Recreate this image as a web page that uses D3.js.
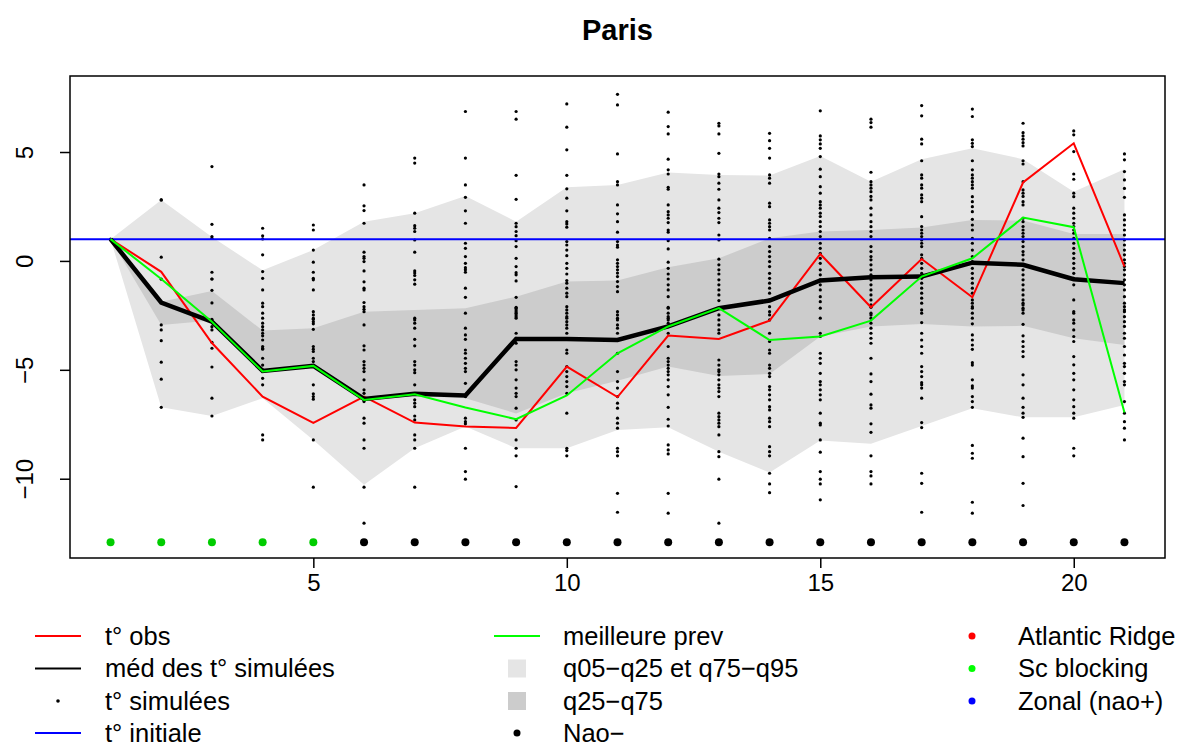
<!DOCTYPE html>
<html>
<head>
<meta charset="utf-8">
<script src="https://cdn.jsdelivr.net/npm/d3@7"></script>
<style>
  body { margin: 0; background: #fff; }
  text { font-family: "Liberation Sans", Arial, Helvetica, sans-serif; }
</style>
</head>
<body>
<div id="chart"></div>
<script>
// Paris - temperature anomaly forecasts

const days = [1,2,3,4,5,6,7,8,9,10,11,12,13,14,15,16,17,18,19,20,21];

const tObs = [1.0,-0.5,-3.77,-6.23,-7.44,-6.23,-7.42,-7.6,-7.67,-4.85,-6.25,-3.43,-3.58,-2.74,0.32,-2.13,0.09,-1.67,3.6,5.4,-0.26];
const bestPrev = [1.0,-0.83,-2.79,-5.08,-4.82,-6.38,-6.12,-6.73,-7.27,-6.18,-4.24,-3.01,-2.17,-3.63,-3.47,-2.74,-0.72,0.12,1.99,1.55,-6.96];
const medSim = [1.0,-1.91,-2.79,-5.05,-4.82,-6.34,-6.1,-6.18,-3.58,-3.58,-3.63,-3.01,-2.17,-1.82,-0.9,-0.75,-0.72,-0.08,-0.18,-0.84,-1.02];

const q05 = [1.0,-6.72,-7.12,-6.3,-8.22,-10.28,-8.6,-7.6,-8.6,-8.6,-7.76,-7.64,-8.76,-9.72,-8.25,-8.4,-7.58,-6.77,-7.18,-7.18,-6.61];
const q25 = [1.0,-2.94,-2.74,-5.08,-4.85,-6.3,-6.2,-6.3,-7.0,-6.08,-5.5,-4.85,-5.28,-5.19,-3.47,-3.01,-2.9,-3.01,-2.98,-3.55,-3.86];
const q75 = [1.0,-1.87,-1.38,-3.2,-3.09,-2.33,-2.25,-2.17,-1.64,-0.95,-0.9,-0.29,0.12,1.04,1.35,1.42,1.53,1.88,1.85,1.24,1.24];
const q95 = [1.0,2.8,1.1,-0.43,0.5,1.8,2.19,2.98,1.8,3.38,3.49,4.06,3.95,3.92,4.82,3.64,4.67,5.17,4.67,3.18,4.21];

const tInit = 1.0;

// simulated temperatures, one list per day
const sims = [
  [1.0],
  [2.8,2.8,0.17,-0.84,-1.91,-2.94,-3.17,-3.66,-4.65,-5.43,-6.72],
  [4.33,1.68,1.12,1.04,-0.52,-0.83,-0.83,-1.35,-1.93,-2.68,-3.02,-3.17,-3.74,-4.01,-4.87,-6.3,-7.12],
  [1.5,1.15,1.01,0.28,-0.49,-0.8,-1.33,-1.94,-2.1,-2.4,-2.63,-2.86,-3.02,-3.17,-3.32,-3.44,-3.63,-3.93,-4.01,-4.05,-4.47,-4.78,-5.0,-5.39,-5.69,-7.99,-8.22],
  [1.65,1.42,0.5,-0.06,-0.52,-0.8,-0.87,-1.33,-2.33,-2.48,-2.63,-2.68,-2.79,-2.89,-3.14,-3.93,-4.05,-4.16,-4.47,-4.62,-4.82,-5.69,-6.1,-6.23,-6.35,-8.22,-10.39],
  [3.49,2.53,2.31,1.73,0.4,0.2,0.12,-0.03,-0.46,-0.96,-1.25,-1.33,-1.91,-2.1,-2.22,-2.33,-2.94,-3.9,-4.09,-4.62,-4.78,-4.93,-5.08,-5.46,-5.92,-6.08,-6.38,-6.46,-7.22,-7.45,-8.22,-8.6,-10.39,-12.04],
  [4.72,4.49,2.19,1.62,1.5,1.35,0.96,0.4,-0.46,-0.56,-0.67,-0.87,-1.07,-2.63,-2.71,-2.86,-3.09,-3.6,-3.9,-4.62,-4.78,-5.0,-5.13,-5.69,-6.38,-6.53,-6.69,-7.12,-7.3,-7.99,-8.22,-8.6,-10.39],
  [6.86,4.72,3.49,2.92,2.3,1.73,0.81,0.58,0.2,-0.11,-0.31,-0.41,-0.52,-1.25,-1.67,-2.4,-3.09,-3.4,-3.6,-4.09,-4.24,-4.47,-4.7,-4.93,-5.08,-5.62,-6.23,-7.22,-7.38,-7.48,-8.6,-9.67,-10.02],
  [6.86,6.51,3.93,2.83,1.73,1.57,1.35,1.16,0.93,0.66,0.12,-0.26,-0.54,-0.64,-0.92,-1.67,-2.13,-2.25,-2.4,-2.56,-2.17,-2.33,-2.48,-2.63,-3.32,-3.55,-3.78,-4.62,-4.78,-5.0,-5.46,-5.84,-6.08,-6.23,-6.76,-7.3,-8.22,-8.6,-8.95,-10.36],
  [7.21,6.14,5.1,3.93,3.31,2.88,2.3,1.8,1.7,1.55,0.89,0.73,0.5,0.24,-0.11,-0.34,-0.6,-0.9,-1.02,-1.25,-1.48,-1.64,-2.1,-2.25,-2.4,-2.56,-2.63,-2.79,-2.94,-3.09,-3.32,-4.09,-4.24,-4.85,-5.08,-5.31,-5.54,-5.77,-6.08,-6.99,-8.6,-8.71,-8.95],
  [7.65,7.16,4.91,3.64,3.49,2.57,2.16,1.8,1.32,0.89,0.73,0.63,0.05,-0.11,-0.26,-0.41,-0.56,-0.72,-0.95,-1.18,-1.41,-2.33,-2.63,-2.48,-2.71,-2.94,-3.09,-3.32,-4.24,-5.08,-5.54,-5.84,-6.23,-6.53,-6.76,-7.22,-7.45,-7.68,-8.6,-8.76,-8.95,-10.67,-11.54],
  [6.83,6.17,5.83,4.67,4.18,3.99,3.38,3.29,2.57,2.26,2.11,1.96,1.76,1.42,1.32,0.93,0.55,-0.06,-0.34,-0.6,-0.83,-1.1,-1.33,-1.64,-2.17,-2.4,-2.63,-2.13,-2.56,-2.71,-2.86,-3.02,-3.32,-3.93,-4.47,-4.62,-4.78,-4.93,-5.08,-5.23,-5.46,-5.77,-6.15,-6.72,-7.27,-7.58,-8.45,-8.68,-8.86,-10.67,-11.58],
  [6.32,6.2,5.83,4.94,3.99,3.87,3.57,3.29,2.8,2.42,2.22,1.96,1.76,1.19,0.96,0.08,-0.18,-0.41,-0.6,-0.87,-1.1,-1.33,-1.56,-1.82,-2.17,-2.48,-2.71,-2.94,-3.17,-3.32,-4.55,-4.78,-5.0,-5.08,-5.23,-5.46,-5.69,-5.84,-6.0,-6.23,-6.99,-7.15,-7.3,-7.45,-7.61,-7.99,-8.76,-8.99,-10.02,-12.04],
  [5.86,5.52,5.17,4.72,3.95,3.8,3.57,2.65,2.49,1.88,1.73,1.57,1.42,1.04,0.66,0.43,0.2,-0.03,-0.26,-0.57,-0.8,-1.02,-1.25,-1.48,-1.79,-2.1,-2.48,-2.33,-2.71,-3.32,-3.7,-4.09,-4.24,-4.78,-4.93,-5.16,-5.31,-5.77,-5.92,-6.15,-6.38,-6.69,-6.84,-7.22,-7.38,-7.61,-8.53,-8.76,-8.95,-9.75,-10.24,-10.64],
  [6.89,5.74,5.56,5.37,5.17,4.79,4.21,3.87,3.41,3.11,2.72,2.57,2.42,2.19,2.04,1.8,1.58,1.35,1.12,0.81,0.58,0.35,0.12,-0.11,-0.41,-0.64,-0.87,-1.1,-1.33,-1.64,-1.87,-2.17,-2.63,-3.32,-3.47,-4.24,-4.47,-4.7,-5.16,-5.54,-5.69,-5.92,-6.15,-6.38,-6.99,-7.45,-7.53,-8.22,-8.78,-9.67,-10.02,-10.24,-10.97],
  [6.51,6.35,6.14,4.07,3.64,3.49,3.34,3.18,2.96,2.8,2.42,2.11,1.8,1.57,1.35,1.12,0.66,0.43,0.2,0.05,-0.18,-0.41,-0.64,-0.87,-1.1,-1.33,-1.56,-1.79,-2.13,-2.48,-2.02,-2.4,-2.63,-2.86,-3.09,-3.32,-3.55,-3.78,-4.47,-5.19,-5.54,-6.12,-6.61,-6.76,-7.48,-7.87,-8.95,-9.67,-9.87,-10.24],
  [7.13,6.66,5.59,5.37,4.6,3.95,3.8,3.49,3.34,3.03,2.88,2.72,2.03,1.58,1.42,1.27,1.12,0.96,0.81,0.66,0.28,0.12,-0.11,-0.34,-0.57,-0.8,-1.02,-1.25,-1.48,-1.71,-1.94,-2.25,-2.4,-2.83,-3.32,-3.63,-3.93,-4.24,-4.85,-5.08,-5.31,-5.59,-5.69,-5.84,-6.3,-7.42,-7.65,-9.75,-10.21,-11.54],
  [6.97,6.63,5.56,5.4,5.25,4.6,4.18,3.95,3.8,3.64,3.49,3.34,2.95,2.72,2.49,2.26,1.91,1.65,1.42,1.04,0.81,0.5,0.2,-0.03,-0.34,-0.57,-0.8,-1.02,-1.25,-1.48,-1.79,-2.1,-2.4,-1.94,-2.17,-2.63,-2.89,-3.4,-3.63,-3.86,-4.06,-4.67,-4.78,-5.46,-5.74,-5.84,-6.23,-6.46,-6.72,-8.47,-8.83,-9.06,-11.08,-11.58],
  [6.32,5.89,5.74,5.59,5.43,5.28,4.6,4.45,3.64,3.26,3.11,2.96,2.72,2.57,1.96,1.8,1.58,1.42,1.27,1.12,0.89,0.66,0.43,0.28,0.05,-0.18,-0.41,-0.64,-0.87,-1.1,-1.33,-1.56,-1.79,-2.02,-2.25,-1.94,-2.17,-2.4,-2.91,-3.44,-3.7,-3.93,-4.16,-4.39,-5.23,-5.69,-6.3,-6.72,-6.99,-7.18,-8.14,-8.99,-10.21,-11.23],
  [5.97,5.79,5.02,3.99,3.75,3.11,2.95,2.42,2.19,1.96,1.73,1.58,1.42,1.27,1.04,0.81,0.58,0.35,0.12,-0.11,-0.34,-0.57,-0.8,-1.1,-1.79,-2.4,-2.33,-2.71,-2.86,-3.17,-3.47,-3.7,-4.39,-4.77,-5.16,-5.46,-5.92,-6.38,-6.69,-6.99,-7.22,-8.6,-8.95],
  [4.91,4.64,4.1,3.72,3.33,2.92,2.11,1.88,1.65,1.42,1.19,0.96,0.73,0.5,0.28,0.05,-0.11,-0.26,-0.41,-0.64,-0.87,-1.1,-1.33,-1.64,-1.94,-2.25,-2.56,-2.1,-2.33,-2.79,-3.01,-3.32,-3.55,-3.93,-4.32,-4.7,-4.85,-5.16,-5.54,-5.69,-6.46,-6.99,-7.38,-7.68,-8.22]
];

// weather regime of each day, drawn as a row of dots at the bottom
const regimes = ["Sc blocking","Sc blocking","Sc blocking","Sc blocking","Sc blocking",
  "Nao-","Nao-","Nao-","Nao-","Nao-","Nao-","Nao-","Nao-","Nao-","Nao-","Nao-","Nao-","Nao-","Nao-","Nao-","Nao-"];
const regimeLevel = -12.92;

const xTicks = [5, 10, 15, 20];
const yTicks = [-10, -5, 0, 5];

const regimeColor = {"Atlantic Ridge": "#ff0000", "Sc blocking": "#00cd00", "Zonal (nao+)": "#0000ff", "Nao-": "#000000"};

const width = 1189, height = 747;
const margin = {top: 76, right: 24, bottom: 189, left: 70};

const svg = d3.select("#chart").append("svg")
    .attr("width", width)
    .attr("height", height);

const x = d3.scaleLinear().domain([0.2, 21.8]).range([margin.left, width - margin.right]);
const y = d3.scaleLinear().domain([-13.64, 8.49]).range([height - margin.bottom, margin.top]);

// bands
const band = (lo, hi) => d3.area()
    .x((d, i) => x(days[i]))
    .y0((d, i) => y(lo[i]))
    .y1((d, i) => y(hi[i]));

svg.append("path").datum(days).attr("d", band(q05, q95)).attr("fill", "#e5e5e5");
svg.append("path").datum(days).attr("d", band(q25, q75)).attr("fill", "#cccccc");

// simulated points
const pts = [];
sims.forEach((vals, i) => vals.forEach(v => pts.push({day: days[i], v})));
svg.append("g").selectAll("circle").data(pts).join("circle")
    .attr("cx", d => x(d.day))
    .attr("cy", d => y(d.v))
    .attr("r", 1.6)
    .attr("fill", "#000");

// regime dots
svg.append("g").selectAll("circle").data(regimes).join("circle")
    .attr("cx", (d, i) => x(days[i]))
    .attr("cy", y(regimeLevel))
    .attr("r", 4)
    .attr("fill", d => regimeColor[d]);

// initial temperature
svg.append("line")
    .attr("x1", x.range()[0]).attr("x2", x.range()[1])
    .attr("y1", y(tInit)).attr("y2", y(tInit))
    .attr("stroke", "#0000ff").attr("stroke-width", 2);

const line = vals => d3.line().x((d, i) => x(days[i])).y((d, i) => y(vals[i]))(vals);

svg.append("path").attr("d", line(tObs)).attr("fill", "none").attr("stroke", "#ff0000").attr("stroke-width", 2);
svg.append("path").attr("d", line(medSim)).attr("fill", "none").attr("stroke", "#000").attr("stroke-width", 4.5);
svg.append("path").attr("d", line(bestPrev)).attr("fill", "none").attr("stroke", "#00ff00").attr("stroke-width", 2);

// box
svg.append("rect")
    .attr("x", x.range()[0]).attr("y", y.range()[1])
    .attr("width", x.range()[1] - x.range()[0])
    .attr("height", y.range()[0] - y.range()[1])
    .attr("fill", "none").attr("stroke", "#000").attr("stroke-width", 1.5);

// axes
const gx = svg.append("g")
    .attr("transform", `translate(0,${y.range()[0]})`)
    .call(d3.axisBottom(x).tickValues(xTicks).tickSize(10).tickFormat(d3.format("d")));
gx.select(".domain").remove();
gx.selectAll("line").attr("stroke-width", 1.5);
gx.selectAll("text").attr("y", 33).attr("dy", 0).style("font-size", "24px").attr("fill", "#000");

const gy = svg.append("g")
    .attr("transform", `translate(${x.range()[0]},0)`)
    .call(d3.axisLeft(y).tickValues(yTicks).tickSize(10).tickFormat(d3.format("d")));
gy.select(".domain").remove();
gy.selectAll("line").attr("stroke-width", 1.5);
gy.selectAll("text")
    .attr("transform", "rotate(-90)")
    .attr("x", 0).attr("y", -37).attr("dy", 0)
    .attr("text-anchor", "middle")
    .style("font-size", "24px").attr("fill", "#000");

// title
svg.append("text")
    .attr("x", (x.range()[0] + x.range()[1]) / 2)
    .attr("y", 40)
    .attr("text-anchor", "middle")
    .style("font-size", "29px").style("font-weight", "bold")
    .text("Paris");

// legend (3 columns)
const legendLabels = ["t° obs", "méd des t° simulées", "t° simulées", "t° initiale",
  "meilleure prev", "q05−q25 et q75−q95", "q25−q75", "Nao−",
  "Atlantic Ridge", "Sc blocking", "Zonal (nao+)"];
const legendKinds = ["line", "line", "dot", "line", "line", "square", "square", "bigdot", "bigdot", "bigdot", "bigdot"];
const legendColors = ["#ff0000", "#000000", "#000000", "#0000ff", "#00ff00", "#e5e5e5", "#cccccc", "#000000", "#ff0000", "#00ff00", "#0000ff"];

const colX = [58, 517, 972];
const colTextX = [105, 563, 1018];
const rowY = [636, 668.5, 701, 733];

const leg = svg.append("g");
legendLabels.forEach((lab, i) => {
  const c = Math.floor(i / 4), r = i % 4;
  const cx = colX[c], cy = rowY[r];
  const k = legendKinds[i];
  if (k === "line") {
    leg.append("line").attr("x1", cx - 23).attr("x2", cx + 23).attr("y1", cy).attr("y2", cy)
      .attr("stroke", legendColors[i]).attr("stroke-width", 2);
  } else if (k === "square") {
    leg.append("rect").attr("x", cx - 9).attr("y", cy - 9).attr("width", 18).attr("height", 18)
      .attr("fill", legendColors[i]);
  } else if (k === "dot") {
    leg.append("circle").attr("cx", cx).attr("cy", cy).attr("r", 1.8).attr("fill", legendColors[i]);
  } else {
    leg.append("circle").attr("cx", cx).attr("cy", cy).attr("r", 3.5).attr("fill", legendColors[i]);
  }
  leg.append("text").attr("x", colTextX[c]).attr("y", cy + 8.5)
    .style("font-size", "25.5px").text(lab);
});
</script>
</body>
</html>
